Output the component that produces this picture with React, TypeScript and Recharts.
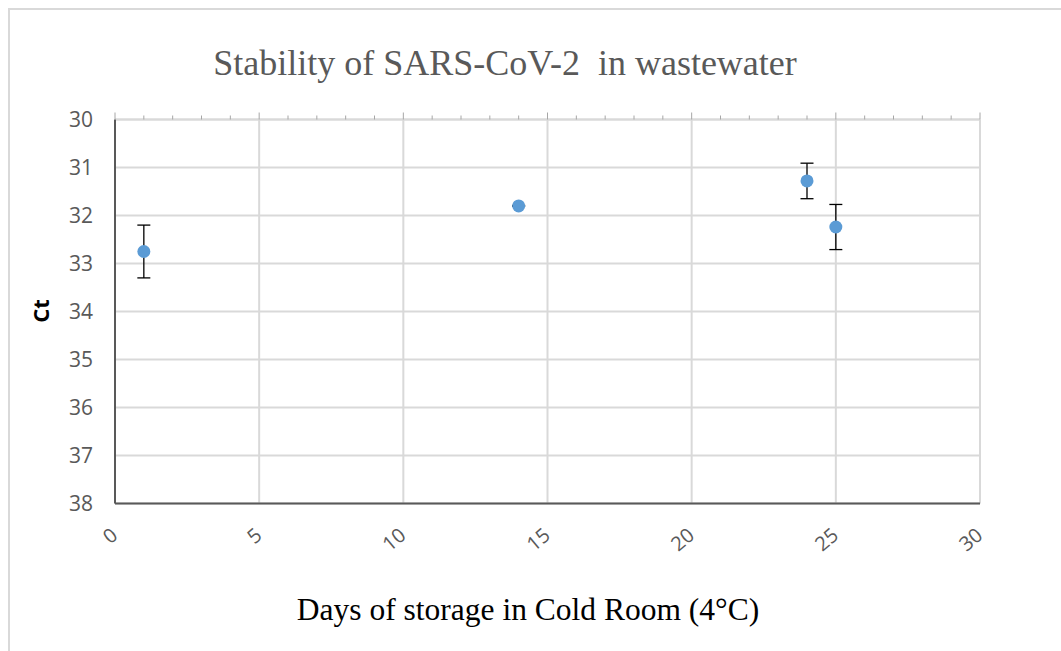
import React from 'react';
import { ScatterChart, Scatter, XAxis, YAxis, CartesianGrid, ErrorBar } from 'recharts';

// Data
const days = [1, 14, 24, 25];
const ctValues = [32.75, 31.8, 31.28, 32.24];
const ctErrors = [0.55, 0.01, 0.37, 0.47];

const xTicks = [0, 5, 10, 15, 20, 25, 30];
const xMinorTicks = [0, 1, 2, 3, 4, 5, 6, 7, 8, 9, 10, 11, 12, 13, 14, 15, 16, 17, 18, 19, 20, 21, 22, 23, 24, 25, 26, 27, 28, 29, 30];
const yTicks = [30, 31, 32, 33, 34, 35, 36, 37, 38];

const titleText = 'Stability of SARS-CoV-2  in wastewater';
const xLabelText = 'Days of storage in Cold Room (4°C)';
const yLabelText = 'Ct';

const data = days.map((d, i) => ({ x: d, y: ctValues[i], err: ctErrors[i] }));

const W = 1061;
const H = 651;

const TopTick = (props: any) => {
  const { x, y, payload } = props;
  const major = payload.value % 5 === 0;
  return <line x1={x} x2={x} y1={y} y2={y - (major ? 7 : 4)} stroke="#a6a6a6" strokeWidth={1} />;
};

const BottomTick = (props: any) => {
  const { x, y, payload } = props;
  return (
    <g transform={`translate(${x + 4},${y + 34})`}>
      <text transform="rotate(-40)" textAnchor="end" fill="#595959" fontSize={20} fontFamily="Open Sans">
        {payload.value}
      </text>
    </g>
  );
};

const Dot = (props: any) => {
  const { cx, cy } = props;
  return <circle cx={cx} cy={cy} r={6.5} fill="#5B9BD5" />;
};

export default function App() {
  return (
    <div style={{ position: 'absolute', left: 0, top: 0, width: W, height: H, overflow: 'hidden', background: '#fff' }}>
      <div
        style={{
          position: 'absolute',
          left: 8,
          top: 8,
          width: 1200,
          height: 800,
          border: '2px solid #d9d9d9',
          boxSizing: 'border-box',
        }}
      />
      <div style={{ position: 'absolute', left: 0, top: 0 }}>
        <ScatterChart width={W} height={H} margin={{ top: 109.5, right: 81, bottom: 87.5, left: 0 }}>
          <CartesianGrid stroke="#d9d9d9" strokeWidth={2} />
          <XAxis
            xAxisId="top"
            orientation="top"
            type="number"
            dataKey="x"
            domain={[0, 30]}
            ticks={xMinorTicks}
            interval={0}
            height={10}
            axisLine={{ stroke: '#d9d9d9', strokeWidth: 2 }}
            tickLine={false}
            tickSize={0}
            tickMargin={0}
            tick={<TopTick />}
            allowDataOverflow
          />
          <XAxis
            type="number"
            dataKey="x"
            domain={[0, 30]}
            ticks={xTicks}
            interval={0}
            height={60}
            axisLine={{ stroke: '#595959', strokeWidth: 2 }}
            tickLine={false}
            tickSize={0}
            tickMargin={0}
            tick={<BottomTick />}
            allowDataOverflow
          />
          <YAxis
            type="number"
            dataKey="y"
            domain={[30, 38]}
            reversed
            ticks={yTicks}
            interval={0}
            width={115}
            axisLine={{ stroke: '#595959', strokeWidth: 2 }}
            tickLine={false}
            tickSize={6}
            tickMargin={16}
            tick={{ fill: '#595959', fontSize: 21, fontFamily: 'Open Sans' }}
            allowDataOverflow
          />
          <Scatter data={data} fill="#5B9BD5" shape={<Dot />} isAnimationActive={false}>
            <ErrorBar dataKey="err" direction="y" width={6.5} stroke="#000" strokeWidth={1.3} />
          </Scatter>
        </ScatterChart>
      </div>
      <svg
        width={W}
        height={H}
        style={{ position: 'absolute', left: 0, top: 0, pointerEvents: 'none' }}
      >
        <text
          x={505}
          y={75}
          textAnchor="middle"
          fill="#595959"
          fontSize={36}
          fontFamily="Liberation Serif"
          style={{ whiteSpace: 'pre' }}
        >
          {titleText}
        </text>
        <text x={528} y={620} textAnchor="middle" fill="#000" fontSize={31.5} fontFamily="Liberation Serif">
          {xLabelText}
        </text>
        <text
          transform="translate(49,311) rotate(-90)"
          textAnchor="middle"
          fill="#000"
          fontSize={22}
          fontWeight="bold"
          fontFamily="Open Sans"
        >
          {yLabelText}
        </text>
      </svg>
    </div>
  );
}
